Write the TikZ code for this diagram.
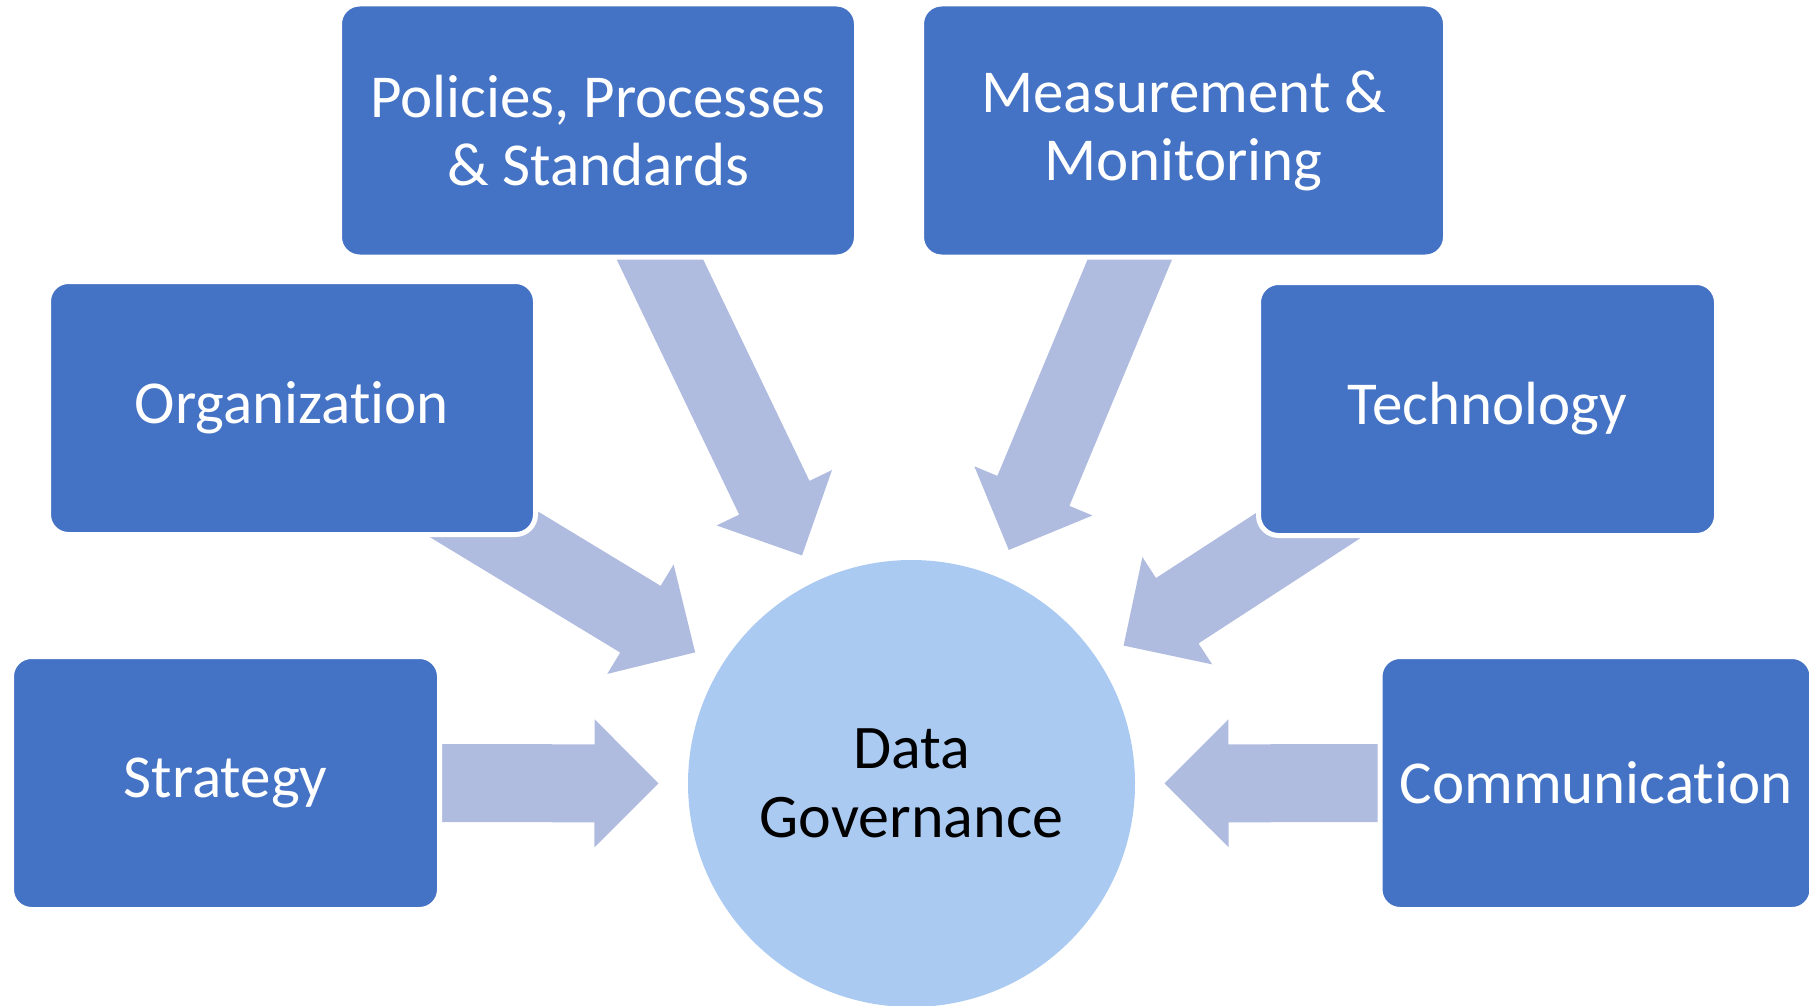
\documentclass[tikz,border=0pt]{standalone}
\usepackage{fontspec}
\setmainfont{Carlito}[Ligatures=NoCommon]
\usetikzlibrary{calc,backgrounds}

\definecolor{boxblue}{RGB}{68,114,196}
\definecolor{arrowblue}{RGB}{176,188,223}
\definecolor{hubblue}{RGB}{170,202,242}

\tikzset{
  topic/.style={rectangle, rounded corners=20pt, fill=boxblue, draw=white,
    line width=5pt, text=white, align=center, inner sep=0pt,
    minimum height=253pt, font=\fontsize{61}{68}\selectfont},
  hub/.style={circle, fill=hubblue, inner sep=0pt, minimum size=447pt,
    align=center, font=\fontsize{62}{69}\selectfont},
  fatarrow/.style={fill=arrowblue}
}

\begin{document}
\begin{tikzpicture}[x=1pt, y=-1pt]

\useasboundingbox (0,0) rectangle (1809,1006);

\node [hub] (dg) at (911.5,783.5) {Data\\Governance};

\node [topic, minimum width=517pt] (pol) at (598,130.5) {Policies, Processes\\\& Standards};
\node [topic, minimum width=524pt] (meas) at (1183.5,130.5) {Measurement \&\\Monitoring};
\node [topic, minimum width=487pt] (org) at (292,408) {Organization};
\node [topic, minimum width=458pt] (tech) at (1487.5,409) {Technology};
\node [topic, minimum width=428pt] (strat) at (225.5,783) {Strategy};
\node [topic, minimum width=432pt] (comm) at (1596,783) {Communication};

% block arrows, from each box toward the hub
\begin{scope}[on background layer]
\foreach \b in {strat,org,pol,meas,tech,comm}{
  \coordinate (tip) at ($(dg.center)!253pt!(\b.center)$);
  \coordinate (back) at ($(dg.center)!317pt!(\b.center)$);
  \fill [fatarrow] ($(\b.center)!39pt!90:(dg.center)$)
    -- ($(back)!39pt!90:(dg.center)$) -- ($(back)!64pt!90:(dg.center)$)
    -- (tip)
    -- ($(back)!64pt!-90:(dg.center)$) -- ($(back)!39pt!-90:(dg.center)$)
    -- ($(\b.center)!39pt!-90:(dg.center)$) -- cycle;
}
\end{scope}

\end{tikzpicture}
\end{document}
